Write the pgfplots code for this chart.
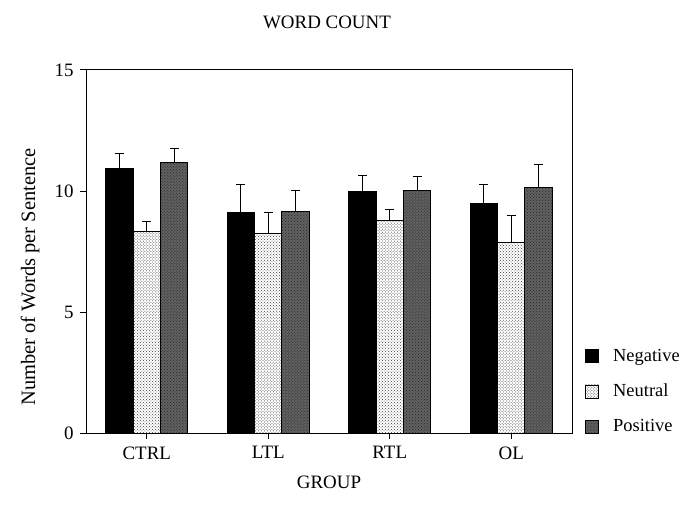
\documentclass[border=0pt]{standalone}
\usepackage{fontspec}
\setmainfont{Liberation Serif}
\usepackage{pgfplots}
\pgfplotsset{compat=1.18}
\usetikzlibrary{patterns}
\begin{document}
\fontsize{19}{22}\selectfont
\begin{tikzpicture}
\useasboundingbox (0,0) rectangle (680bp,519bp);
\begin{axis}[
  at={(86bp,86bp)}, anchor=south west,
  scale only axis, width=486bp, height=363bp,
  ybar,
  xmin=-0.5, xmax=3.5, ymin=0, ymax=15,
  xtick={0,1,2,3}, xticklabels={CTRL,LTL,RTL,OL},
  ytick={0,5,10,15},
  tick align=outside, major tick length=6bp,
  xtick pos=bottom, ytick pos=left,
  /pgf/number format/assume math mode=true,
  tick label style={font=\fontsize{19}{22}\selectfont},
  xticklabel style={yshift=-1bp},
  axis line style={line width=1pt},
  tick style={line width=1pt, black},
  bar width=0.225,
  legend style={at={(1,0)}, anchor=south west, xshift=10bp, yshift=-6bp, draw=none, fill=none,
    font=\fontsize{18.5}{22}\selectfont, row sep=16bp},
  legend cell align=left,
  legend image code/.code={\draw[#1, line width=0.6pt] (0bp,-6bp) rectangle (13bp,7bp); \path (0bp,0bp) (25bp,0bp);},
  error bars/y dir=plus, error bars/y explicit,
  error bars/error mark=|,
  error bars/error bar style={line width=1pt, black},
  error bars/error mark options={line width=1pt, black, mark size=4.5bp},
]
\addplot[bar shift=-0.225, fill=black, draw=black, line width=1pt]
  coordinates {(0,10.93) +- (0,0.62) (1,9.13) +- (0,1.13) (2,9.97) +- (0,0.66) (3,9.49) +- (0,0.78)};
\addplot[bar shift=0, fill=white, draw=black, line width=1pt, postaction={pattern=crosshatch dots, pattern color=black!75}]
  coordinates {(0,8.34) +- (0,0.42) (1,8.25) +- (0,0.87) (2,8.80) +- (0,0.43) (3,7.86) +- (0,1.14)};
\addplot[bar shift=0.225, fill=black!62, draw=black, line width=1pt, postaction={pattern=crosshatch dots, pattern color=black!85}]
  coordinates {(0,11.17) +- (0,0.59) (1,9.16) +- (0,0.87) (2,10.04) +- (0,0.56) (3,10.14) +- (0,0.96)};
\legend{Negative, Neutral, Positive}
\end{axis}
\node at (327bp,497bp) {WORD COUNT};
\node at (329bp,37bp) {GROUP};
\node[rotate=90, font=\fontsize{20.5}{24}\selectfont] at (30bp,242bp) {Number of Words per Sentence};
\end{tikzpicture}
\end{document}
